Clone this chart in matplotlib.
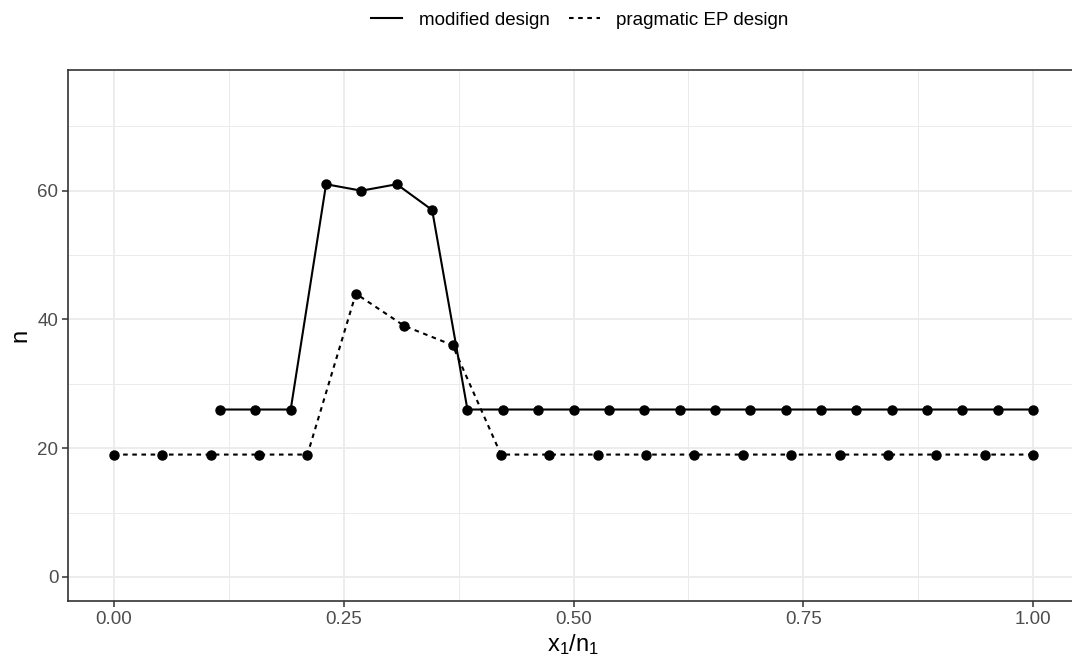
import numpy as np
import matplotlib
matplotlib.use("Agg")
import matplotlib.pyplot as plt
from matplotlib.ticker import MultipleLocator

# ============================================================
# DATA
# ============================================================

mod_x = [0.1154, 0.1538, 0.1923, 0.2308, 0.2692, 0.3077, 0.3462, 0.3846,
         0.4231, 0.4615, 0.5000, 0.5385, 0.5769, 0.6154, 0.6538, 0.6923,
         0.7308, 0.7692, 0.8077, 0.8462, 0.8846, 0.9231, 0.9615, 1.0000]
mod_n = [26, 26, 26, 61, 60, 61, 57, 26,
         26, 26, 26, 26, 26, 26, 26, 26,
         26, 26, 26, 26, 26, 26, 26, 26]

ep_x = [0.0000, 0.0526, 0.1053, 0.1579, 0.2105, 0.2632, 0.3158, 0.3684,
        0.4211, 0.4737, 0.5263, 0.5789, 0.6316, 0.6842, 0.7368, 0.7895,
        0.8421, 0.8947, 0.9474, 1.0000]
ep_n = [19, 19, 19, 19, 19, 44, 39, 36,
        19, 19, 19, 19, 19, 19, 19, 19,
        19, 19, 19, 19]

x_ticks = [0.00, 0.25, 0.50, 0.75, 1.00]
x_tick_labels = ["0.00", "0.25", "0.50", "0.75", "1.00"]
y_ticks = [0, 20, 40, 60]

# ============================================================
# PLOT
# ============================================================

plt.rcParams["font.family"] = ["Liberation Sans", "DejaVu Sans"]

fig = plt.figure(figsize=(10.72, 6.64), dpi=100)
ax = fig.add_axes([68 / 1072, 63 / 664, 1011 / 1072, 531 / 664])

ax.plot(mod_x, mod_n, color="black", lw=1.5, marker="o", ms=6.5,
        label="modified design", zorder=3)
ax.plot(ep_x, ep_n, color="black", lw=1.5, ls=(0, (2.2, 2.2)),
        marker="o", ms=6.5, label="pragmatic EP design", zorder=3)

ax.set_xlim(-0.05, 1.05)
ax.set_ylim(-3.75, 78.75)

ax.set_xticks(x_ticks)
ax.set_xticklabels(x_tick_labels)
ax.set_yticks(y_ticks)
ax.xaxis.set_minor_locator(MultipleLocator(0.125))
ax.yaxis.set_minor_locator(MultipleLocator(10))

ax.grid(True, which="major", color="#EBEBEB", lw=1.3, zorder=0)
ax.grid(True, which="minor", color="#EBEBEB", lw=0.7, zorder=0)
ax.set_axisbelow(True)

ax.tick_params(which="major", length=4, width=1.1, color="#333333",
               labelsize=13.5, labelcolor="#4D4D4D", pad=3)
ax.tick_params(which="minor", length=0)

for s in ax.spines.values():
    s.set_color("#333333")
    s.set_linewidth(1.2)

ax.set_xlabel(r"$\mathregular{x_1/n_1}$", fontsize=17, labelpad=3)
ax.set_ylabel("n", fontsize=17, labelpad=4)

fig.legend(loc="upper center", bbox_to_anchor=(580 / 1072, 1.008), ncol=2,
           frameon=False, fontsize=13.5, handlelength=1.65, columnspacing=1.0,
           handletextpad=0.9, markerscale=0)

fig.savefig("out.png", dpi=100)
